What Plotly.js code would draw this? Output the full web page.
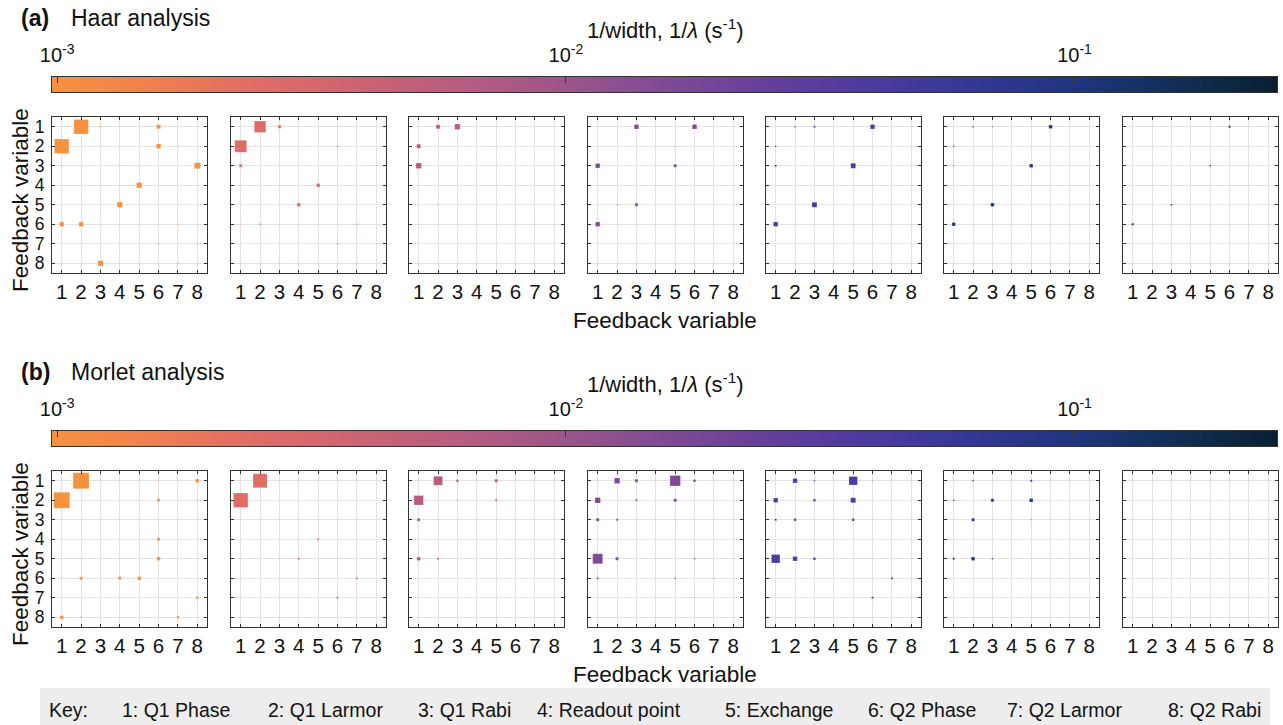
<!DOCTYPE html>
<html>
<head>
<meta charset="utf-8">
<script src="https://cdn.plot.ly/plotly-3.0.1.min.js"></script>
<style>html,body{margin:0;padding:0;background:#fff;}#chart{width:1283px;height:725px;}</style>
</head>
<body>
<div id="chart"></div>
<script>
// ---------------- DATA ----------------
const variableIds = [1, 2, 3, 4, 5, 6, 7, 8];
const variableNames = ['Q1 Phase', 'Q1 Larmor', 'Q1 Rabi', 'Readout point', 'Exchange', 'Q2 Phase', 'Q2 Larmor', 'Q2 Rabi'];
// 1/width (1/lambda, s^-1) of each of the 7 panels in a row
const panelInvLambda = [0.000977, 0.00246, 0.0062, 0.0156, 0.0394, 0.0992, 0.25];
const colorbarRange = [0.000977, 0.25];
const colorbarTicks = [0.001, 0.01, 0.1];
const colorbarTickText = ['10<sup>-3</sup>', '10<sup>-2</sup>', '10<sup>-1</sup>'];

// each entry: [column variable, row variable, strength (marker size)]
const haar1 = [[2,1,14.5],[1,2,14.5],[3,1,1.5],[6,1,4],[3,2,1],[6,2,4.5],[7,2,1],[1,3,1.5],[2,3,1],[4,3,1],[5,3,1],[8,3,6],[3,4,1],[5,4,5.5],[3,5,1],[4,5,5.5],[1,6,4.5],[2,6,4.5],[3,6,1],[7,6,1.5],[2,7,1],[6,7,1.5],[8,7,1.5],[3,8,5.5],[7,8,1.5]];
const haar2 = [[2,1,11.5],[3,1,3],[6,1,1],[1,2,12],[6,2,1.5],[1,3,3],[8,3,1],[5,4,3.5],[4,5,3.5],[1,6,1],[2,6,1.5],[7,6,1.5],[6,7,1.5],[8,7,1],[3,8,1],[7,8,1]];
const haar3 = [[2,1,4],[3,1,5.5],[1,2,4],[1,3,5.5],[2,5,1],[1,6,0.8],[7,6,0.8],[6,7,0.6],[5,2,0.6]];
const haar4 = [[3,1,4.5],[6,1,4.5],[5,2,1],[1,3,4.5],[5,3,3],[2,5,1],[3,5,3],[1,6,4.5]];
const haar5 = [[2,1,1.5],[3,1,2],[6,1,4.5],[1,2,1.5],[1,3,2],[5,3,5],[3,5,5],[1,6,4.5]];
const haar6 = [[2,1,1.5],[3,1,1],[6,1,3.5],[1,2,1.5],[1,3,1],[5,3,3.5],[3,5,3.5],[1,6,3.5]];
const haar7 = [[2,1,0.6],[6,1,2],[5,3,1.5],[3,5,1.5],[1,6,2]];

const morlet1 = [[2,1,16],[1,2,16],[5,1,0.8],[6,1,1],[8,1,3.5],[5,2,0.8],[6,2,3],[8,2,1.5],[5,3,0.8],[6,4,3],[1,5,0.8],[2,5,0.8],[3,5,0.8],[6,5,3.5],[1,6,1],[2,6,3],[4,6,3],[5,6,3.5],[6,7,0.8],[8,7,2.5],[1,8,3.5],[2,8,1.5],[7,8,2.5]];
const morlet2 = [[2,1,14],[1,2,14.5],[5,3,0.8],[5,4,2],[3,5,0.8],[4,5,2],[6,5,0.8],[5,6,0.8],[7,6,2],[6,7,2],[3,8,0.8]];
const morlet3 = [[2,1,9],[3,1,2.5],[5,1,3],[1,2,9.5],[3,2,1],[5,2,2],[1,3,3],[2,3,1],[1,5,3.5],[2,5,2]];
const morlet4 = [[2,1,5.5],[3,1,3],[5,1,10.5],[6,1,2.5],[1,2,5.5],[3,2,2],[5,2,3],[1,3,3],[2,3,2],[5,3,1],[1,5,10],[2,5,3],[6,5,1.5],[1,6,2],[5,6,1.5],[7,6,1],[6,7,1]];
const morlet5 = [[2,1,4.5],[3,1,1.5],[5,1,8.5],[6,1,0.8],[1,2,4.5],[3,2,2.5],[5,2,5],[1,3,2],[2,3,2.5],[5,3,2.5],[1,5,8.5],[2,5,4.5],[3,5,2.5],[7,6,2],[6,7,2]];
const morlet6 = [[2,1,1.5],[5,1,2],[1,2,1.5],[3,2,3],[5,2,3.5],[2,3,3],[5,3,1],[1,5,2],[2,5,3.5],[3,5,1.5]];
const morlet7 = [];

const haarPanels = [haar1, haar2, haar3, haar4, haar5, haar6, haar7];
const morletPanels = [morlet1, morlet2, morlet3, morlet4, morlet5, morlet6, morlet7];

// ---------------- STYLE / LAYOUT ----------------
const W = 1283, H = 725;
const FONT = '"Liberation Sans", Arial, sans-serif';
const colorStops = [
  [0, '#F7923F'], [0.08, '#F0804E'], [0.167, '#E06C66'], [0.25, '#CC6472'],
  [0.333, '#B85C80'], [0.42, '#9C5588'], [0.5, '#7F4A96'], [0.585, '#643F9C'],
  [0.667, '#4C3A9F'], [0.75, '#343796'], [0.833, '#1F3580'], [0.9, '#14305F'],
  [0.95, '#0D2946'], [1, '#0A2030']
];
const e0 = Math.log10(colorbarRange[0]), e1 = Math.log10(colorbarRange[1]);
const xd = (a, b) => [a / W, b / W];
const yd = (top, bottom) => [1 - bottom / H, 1 - top / H];
const panelLefts = [52, 231, 409, 588, 766, 944, 1123];
const panelW = 155, panelH = 156;
const rowTops = [117, 471];
const rowShift = 354;

const traces = [];
const layout = {
  width: W, height: H,
  margin: {l: 0, r: 0, t: 0, b: 0},
  paper_bgcolor: '#fff', plot_bgcolor: '#fff',
  showlegend: false,
  font: {family: FONT, color: '#111'},
  annotations: [], shapes: []
};

[haarPanels, morletPanels].forEach((panels, r) => {
  panels.forEach((pts, k) => {
    const n = r * 7 + k + 1;
    const xa = 'xaxis' + n, ya = 'yaxis' + n;
    layout[xa] = {
      domain: xd(panelLefts[k], panelLefts[k] + panelW),
      anchor: 'y' + n, range: [0.5, 8.5], tickvals: variableIds,
      ticks: 'inside', ticklen: 3, tickcolor: '#333', showline: true, mirror: 'ticks',
      linecolor: '#333', linewidth: 1, showgrid: true, gridcolor: '#e3e3e3', gridwidth: 1,
      zeroline: false, tickfont: {size: 20.5, color: '#111'}, ticklabelstandoff: 0, fixedrange: true
    };
    layout[ya] = {
      domain: yd(rowTops[r], rowTops[r] + panelH),
      anchor: 'x' + n, range: [8.5, 0.5], tickvals: variableIds,
      ticks: 'inside', ticklen: 3, tickcolor: '#333', showline: true, mirror: 'ticks',
      linecolor: '#333', linewidth: 1, showgrid: true, gridcolor: '#e3e3e3', gridwidth: 1,
      zeroline: false, showticklabels: k === 0, tickfont: {size: 17.5, color: '#111'},
      ticklabelstandoff: 3, fixedrange: true
    };
    const ex = Math.log10(panelInvLambda[k]);
    traces.push({
      type: 'scatter', mode: 'markers',
      x: pts.map(p => p[0]), y: pts.map(p => p[1]),
      xaxis: 'x' + n, yaxis: 'y' + n,
      marker: {
        symbol: 'square', size: pts.map(p => p[2]), opacity: 1,
        color: pts.map(() => ex), colorscale: colorStops, cmin: e0, cmax: e1, showscale: false,
        line: {width: 0.6, color: 'rgba(255,255,255,0.35)'}
      },
      hoverinfo: 'skip', cliponaxis: false
    });
  });

  // colorbar gradient row
  const n = 15 + r;
  const gx = colorStops.map(s => e0 + s[0] * (e1 - e0));
  traces.push({
    type: 'heatmap', x: gx, y: [0, 1], z: [gx, gx],
    zmin: e0, zmax: e1, colorscale: colorStops, zsmooth: 'best', showscale: false,
    xaxis: 'x' + n, yaxis: 'y' + n, hoverinfo: 'skip'
  });
  layout['xaxis' + n] = {
    domain: xd(52, 1277), anchor: 'y' + n, side: 'top', range: [e0, e1],
    tickvals: colorbarTicks.map(v => Math.log10(v)), ticktext: colorbarTickText,
    ticks: 'inside', ticklen: 6, tickcolor: '#333', showline: true, mirror: true,
    linecolor: '#333', linewidth: 1, showgrid: false, zeroline: false,
    tickfont: {size: 20, color: '#111'}, ticklabelstandoff: 6, fixedrange: true
  };
  layout['yaxis' + n] = {
    domain: yd(77 + r * rowShift, 92 + r * rowShift), anchor: 'x' + n, range: [0, 1],
    showline: true, mirror: true, linecolor: '#333', linewidth: 1,
    showticklabels: false, ticks: '', showgrid: false, zeroline: false, fixedrange: true
  };

  const dy = r * rowShift;
  const ann = (x, y, text, opts) => layout.annotations.push(Object.assign({
    xref: 'paper', yref: 'paper', x: x / W, y: 1 - y / H, text: text, showarrow: false,
    xanchor: 'left', yanchor: 'middle', font: {size: 23, color: '#111', family: FONT}
  }, opts || {}));
  ann(19, 18 + dy, r === 0 ? '<b>(a)</b>' : '<b>(b)</b>');
  ann(69, 18 + dy, r === 0 ? 'Haar analysis' : 'Morlet analysis');
  ann(665, 29 + dy, '1/width, 1/<i>λ</i> (s<sup>-1</sup>)', {xanchor: 'center', font: {size: 22, color: '#111', family: FONT}});
  ann(665, 320 + dy, 'Feedback variable', {xanchor: 'center', font: {size: 22.5, color: '#111', family: FONT}});
  ann(20, 200 + dy, 'Feedback variable', {xanchor: 'center', textangle: -90, font: {size: 22.5, color: '#111', family: FONT}});
});

// key box
layout.shapes.push({type: 'rect', xref: 'paper', yref: 'paper', x0: 40 / W, x1: 1270 / W, y0: 0, y1: 1 - 688 / H,
  fillcolor: '#ededed', line: {width: 0}, layer: 'below'});
const keyX = [120, 266, 416, 535, 723, 866, 1005, 1166];
layout.annotations.push({xref: 'paper', yref: 'paper', x: 47 / W, y: 1 - 710 / H, text: 'Key:', showarrow: false,
  xanchor: 'left', yanchor: 'middle', font: {size: 19.5, color: '#111', family: FONT}});
variableNames.forEach((nm, i) => {
  layout.annotations.push({xref: 'paper', yref: 'paper', x: keyX[i] / W, y: 1 - 710 / H,
    text: variableIds[i] + ': ' + nm, showarrow: false, xanchor: 'left', yanchor: 'middle',
    font: {size: 19.5, color: '#111', family: FONT}});
});

Plotly.newPlot('chart', traces, layout, {staticPlot: true, displayModeBar: false});
</script>
</body>
</html>
